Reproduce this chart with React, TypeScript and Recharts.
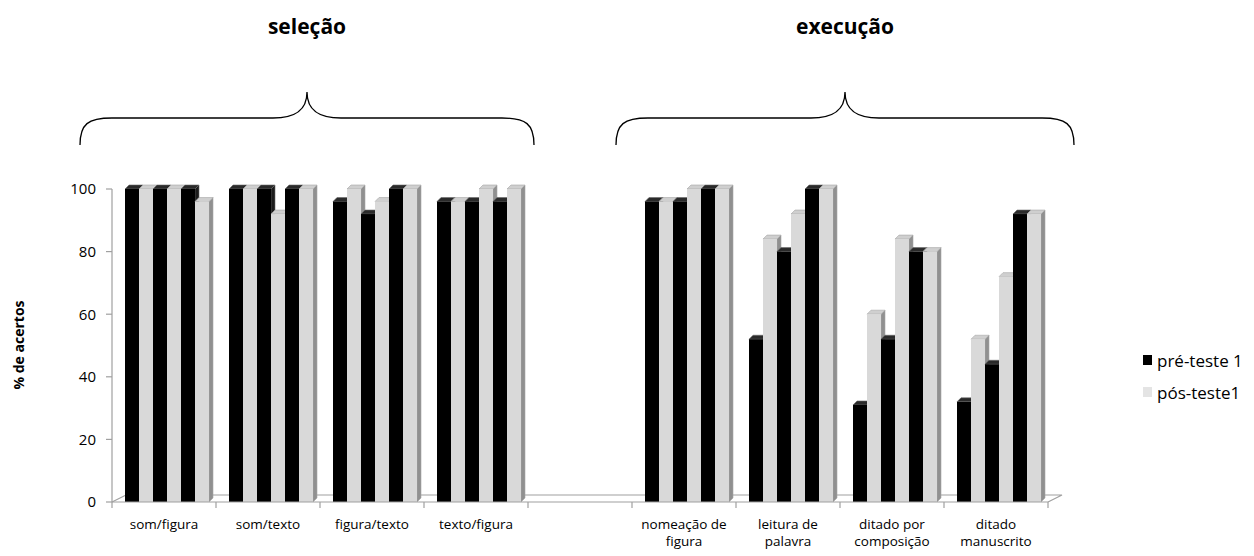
import React from 'react';
import { BarChart, Bar, XAxis, YAxis } from 'recharts';

// categorias das tarefas (a posição vazia separa seleção de execução)
const categories = [
  'som/figura',
  'som/texto',
  'figura/texto',
  'texto/figura',
  '',
  'nomeação de\nfigura',
  'leitura de\npalavra',
  'ditado por\ncomposição',
  'ditado\nmanuscrito',
];

// % de acertos de cada participante, pré e pós-teste
const pre1 = [100, 100, 96, 96, null, 96, 52, 31, 32];
const pos1 = [100, 100, 100, 96, null, 96, 84, 60, 52];
const pre2 = [100, 100, 92, 96, null, 96, 80, 52, 44];
const pos2 = [100, 92, 96, 100, null, 100, 92, 84, 72];
const pre3 = [100, 100, 100, 96, null, 100, 100, 80, 92];
const pos3 = [96, 100, 100, 100, null, 100, 100, 80, 92];

const yTicks = [0, 20, 40, 60, 80, 100];

const groupTitles = ['seleção', 'execução'];
const legendNames = ['pré-teste 1', 'pós-teste1'];

const data = categories.map((cat, i) => ({
  cat,
  pre1: pre1[i],
  pos1: pos1[i],
  pre2: pre2[i],
  pos2: pos2[i],
  pre3: pre3[i],
  pos3: pos3[i],
}));

const W = 1254;
const H = 556;
const PLOT_LEFT = 112;
const PLOT_RIGHT = 1048;
const PLOT_TOP = 189;
const PLOT_BOTTOM = 502;
const BAND = (PLOT_RIGHT - PLOT_LEFT) / categories.length;
const FONT = '"Open Sans", "Noto Sans", sans-serif';

const DARK = { front: '#000000', top: '#2a2a2a', side: '#1c1c1c', edge: '#6a6a6a' };
const LIGHT = { front: '#d9d9d9', top: '#cfcfcf', side: '#909090', edge: '#a6a6a6' };

// barra com topo e lateral para o efeito 3D
const Bar3D = (props: any) => {
  const { x, y, width, height, colors } = props;
  if (height == null || height <= 0 || x == null) return null;
  const dx = 4;
  const dy = 4;
  const x0 = x + 3;
  const top = `${x0},${y} ${x0 + dx},${y - dy} ${x0 + width + dx},${y - dy} ${x0 + width},${y}`;
  const side = `${x0 + width},${y} ${x0 + width + dx},${y - dy} ${x0 + width + dx},${y + height - dy} ${x0 + width},${y + height}`;
  return (
    <g>
      <polygon points={side} fill={colors.side} stroke={colors.edge} strokeWidth={0.6} />
      <polygon points={top} fill={colors.top} stroke={colors.edge} strokeWidth={0.6} />
      <rect x={x0} y={y} width={width} height={height} fill={colors.front} />
    </g>
  );
};

const CategoryTick = (props: any) => {
  const { x, payload } = props;
  const lines = String(payload.value).split('\n');
  return (
    <text x={x} y={PLOT_BOTTOM + 27} textAnchor="middle" fontSize={13.5} fontFamily={FONT} fill="#000">
      {lines.map((l, i) => (
        <tspan key={i} x={x} dy={i === 0 ? 0 : 17}>
          {l}
        </tspan>
      ))}
    </text>
  );
};

const LegendBox = () => (
  <div style={{ position: 'absolute', left: 1143, top: 349, fontFamily: FONT, fontSize: 17, color: '#000' }}>
    {legendNames.map((name, i) => (
      <div
        key={name}
        style={{ display: 'flex', alignItems: 'center', height: 22, marginBottom: i === 0 ? 10 : 0, whiteSpace: 'nowrap' }}
      >
        <span
          style={{
            display: 'inline-block',
            width: 9,
            height: 10,
            marginRight: 5,
            background: i === 0 ? DARK.front : '#e4e4e4',
          }}
        />
        <span>{name}</span>
      </div>
    ))}
  </div>
);

// chave "{" sobre um grupo de categorias
const bracePath = (x1: number, x2: number) => {
  const mid = (x1 + x2) / 2;
  const yb = 145;
  const yh = 118;
  const yt = 92;
  return [
    `M${x1},${yb}`,
    `C${x1},${yh + 6} ${x1 + 8},${yh} ${x1 + 32},${yh}`,
    `L${mid - 34},${yh}`,
    `C${mid - 14},${yh} ${mid},${yh - 6} ${mid},${yt}`,
    `C${mid},${yh - 6} ${mid + 14},${yh} ${mid + 34},${yh}`,
    `L${x2 - 32},${yh}`,
    `C${x2 - 8},${yh} ${x2},${yh + 6} ${x2},${yb}`,
  ].join(' ');
};

const Backdrop = () => {
  const floorDx = 14;
  const floorDy = 7;
  const bounds = categories.map((_, i) => PLOT_LEFT + i * BAND).concat(PLOT_RIGHT);
  const braces = [
    [80, 534],
    [616, 1074],
  ];
  return (
    <svg width={W} height={H} style={{ position: 'absolute', left: 0, top: 0 }}>
      {/* piso */}
      <polyline
        points={`${PLOT_LEFT},${PLOT_BOTTOM} ${PLOT_LEFT + floorDx},${PLOT_BOTTOM - floorDy} ${PLOT_RIGHT + floorDx},${PLOT_BOTTOM - floorDy} ${PLOT_RIGHT},${PLOT_BOTTOM}`}
        fill="none"
        stroke="#a0a0a0"
        strokeWidth={1.2}
      />
      {bounds.map((bx) => (
        <line key={bx} x1={bx} y1={PLOT_BOTTOM} x2={bx} y2={PLOT_BOTTOM + 6} stroke="#a0a0a0" strokeWidth={1.2} />
      ))}
      {braces.map(([a, b], i) => (
        <g key={i}>
          <path d={bracePath(a, b)} fill="none" stroke="#000" strokeWidth={1.3} />
          <text
            x={(a + b) / 2}
            y={34}
            textAnchor="middle"
            fontFamily={FONT}
            fontWeight="bold"
            fontSize={21}
            fill="#000"
          >
            {groupTitles[i]}
          </text>
        </g>
      ))}
      <text
        transform={`translate(24, 345) rotate(-90)`}
        textAnchor="middle"
        fontFamily={FONT}
        fontWeight="bold"
        fontSize={14}
        fill="#000"
      >
        % de acertos
      </text>
    </svg>
  );
};

const series = [
  { key: 'pre1', colors: DARK },
  { key: 'pos1', colors: LIGHT },
  { key: 'pre2', colors: DARK },
  { key: 'pos2', colors: LIGHT },
  { key: 'pre3', colors: DARK },
  { key: 'pos3', colors: LIGHT },
];

export default function App() {
  return (
    <div style={{ position: 'absolute', left: 0, top: 0, width: W, height: H, background: '#fff' }}>
      <Backdrop />
      <div style={{ position: 'absolute', left: 0, top: 0 }}>
        <BarChart
          width={W}
          height={H}
          data={data}
          margin={{ top: PLOT_TOP, right: W - PLOT_RIGHT, bottom: H - PLOT_BOTTOM - 40, left: PLOT_LEFT - 60 }}
          barGap={0}
          barSize={14}
        >
          <XAxis
            dataKey="cat"
            interval={0}
            tickLine={false}
            axisLine={{ stroke: '#a0a0a0', strokeWidth: 1.2 }}
            tick={<CategoryTick />}
            height={40}
          />
          <YAxis
            domain={[0, 100]}
            ticks={yTicks}
            width={60}
            tickSize={6}
            tickMargin={10}
            axisLine={{ stroke: '#a0a0a0', strokeWidth: 1.2 }}
            tickLine={{ stroke: '#a0a0a0', strokeWidth: 1.2 }}
            tick={{ fontSize: 15, fill: '#000', fontFamily: FONT }}
          />
          {series.map((s) => (
            <Bar
              key={s.key}
              dataKey={s.key}
              fill={s.colors.front}
              isAnimationActive={false}
              shape={(p: any) => <Bar3D {...p} colors={s.colors} />}
            />
          ))}
        </BarChart>
      </div>
      <LegendBox />
    </div>
  );
}
